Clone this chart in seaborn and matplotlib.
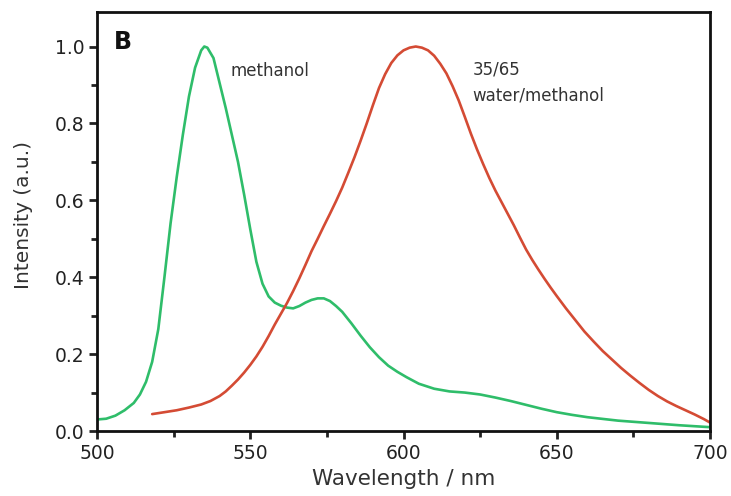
import matplotlib
matplotlib.use("Agg")
import matplotlib.pyplot as plt
import seaborn as sns
import pandas as pd
from matplotlib.ticker import MultipleLocator, FormatStrFormatter

# Methanol emission (green)
wl_methanol = [500, 503, 506, 509, 512, 514, 516, 518, 520, 522, 524, 526, 528, 530, 532, 534, 535,
               536, 538, 540, 542, 544, 546, 548, 550, 552, 554, 556, 558, 560, 562, 564, 566, 568,
               570, 572, 574, 576, 578, 580, 583, 586, 589, 592, 595, 598, 601, 605, 610, 615, 620,
               625, 630, 635, 640, 645, 650, 655, 660, 670, 680, 690, 700]
int_methanol = [0.03, 0.032, 0.04, 0.054, 0.073, 0.095, 0.128, 0.18, 0.265, 0.40, 0.54, 0.66, 0.77, 0.87, 0.945, 0.99, 1.0,
                0.997, 0.97, 0.905, 0.84, 0.77, 0.70, 0.615, 0.525, 0.44, 0.383, 0.35, 0.334, 0.326, 0.321, 0.319, 0.325, 0.334,
                0.341, 0.345, 0.345, 0.338, 0.325, 0.31, 0.28, 0.248, 0.218, 0.192, 0.17, 0.154, 0.14, 0.123, 0.11, 0.103, 0.10,
                0.095, 0.087, 0.078, 0.068, 0.058, 0.049, 0.042, 0.036, 0.027, 0.021, 0.015, 0.01]

# 35/65 water/methanol emission (red)
wl_mix = [518, 522, 526, 530, 534, 537, 540, 542, 544, 546, 548, 550, 552, 554, 556, 558, 560, 562,
          564, 566, 568, 570, 572, 574, 576, 578, 580, 582, 584, 586, 588, 590, 592, 594, 596, 598,
          600, 602, 604, 606, 608, 610, 612, 614, 616, 618, 620, 622, 624, 626, 628, 630, 632, 634,
          636, 638, 640, 642, 644, 646, 648, 650, 653, 656, 659, 662, 665, 668, 671, 674, 677, 680,
          683, 686, 689, 692, 695, 698, 700]
int_mix = [0.044, 0.049, 0.054, 0.061, 0.069, 0.078, 0.091, 0.103, 0.118, 0.134, 0.152, 0.172, 0.194, 0.219, 0.247, 0.277, 0.305, 0.333,
           0.364, 0.397, 0.432, 0.468, 0.50, 0.533, 0.565, 0.598, 0.633, 0.672, 0.712, 0.755, 0.80, 0.847, 0.892, 0.928, 0.957, 0.977,
           0.99, 0.997, 1.0, 0.997, 0.99, 0.976, 0.955, 0.93, 0.897, 0.86, 0.817, 0.773, 0.732, 0.694, 0.658, 0.625, 0.595, 0.565,
           0.535, 0.503, 0.472, 0.445, 0.42, 0.396, 0.373, 0.351, 0.319, 0.289, 0.259, 0.233, 0.208, 0.186, 0.164, 0.144, 0.125, 0.107,
           0.091, 0.077, 0.065, 0.054, 0.043, 0.031, 0.022]

sns.set_style("ticks")
plt.rcParams['font.family'] = ['DejaVu Sans']

fig = plt.figure(figsize=(7.31, 4.96), dpi=100)
ax = fig.add_axes([0.1327, 0.131, 0.8386, 0.845])

df1 = pd.DataFrame({"wl": wl_methanol, "I": int_methanol})
df2 = pd.DataFrame({"wl": wl_mix, "I": int_mix})
sns.lineplot(data=df1, x="wl", y="I", ax=ax, color="#2fbd6a", linewidth=1.9)
sns.lineplot(data=df2, x="wl", y="I", ax=ax, color="#d44b34", linewidth=1.9)

ax.set_xlim(500, 700)
ax.set_ylim(0, 1.09)
ax.xaxis.set_major_locator(MultipleLocator(50))
ax.xaxis.set_minor_locator(MultipleLocator(25))
ax.yaxis.set_major_locator(MultipleLocator(0.2))
ax.yaxis.set_minor_locator(MultipleLocator(0.1))
ax.yaxis.set_major_formatter(FormatStrFormatter('%.1f'))
ax.tick_params(which='major', direction='out', length=6, width=2, labelsize=13.5, colors='#222222', pad=3)
ax.tick_params(which='minor', direction='out', length=4, width=2, colors='#222222')
ax.tick_params(top=False, right=False, which='both')
for s in ax.spines.values():
    s.set_linewidth(2)
    s.set_color('#111111')

ax.set_xlabel("Wavelength / nm", fontsize=15.5, color='#333333', labelpad=5)
ax.set_ylabel("Intensity (a.u.)", fontsize=14.5, color='#333333')
ax.yaxis.set_label_coords(-0.104, 0.515)

ax.text(0.028, 0.958, "B", transform=ax.transAxes, fontsize=17, fontweight='bold', va='top', ha='left', color='#111111')
ax.text(0.217, 0.858, "methanol", transform=ax.transAxes, fontsize=12, color='#333333', va='center')
ax.text(0.613, 0.862, "35/65", transform=ax.transAxes, fontsize=12, color='#333333', va='center')
ax.text(0.613, 0.800, "water/methanol", transform=ax.transAxes, fontsize=12, color='#333333', va='center')

fig.savefig("out.png", dpi=100)
